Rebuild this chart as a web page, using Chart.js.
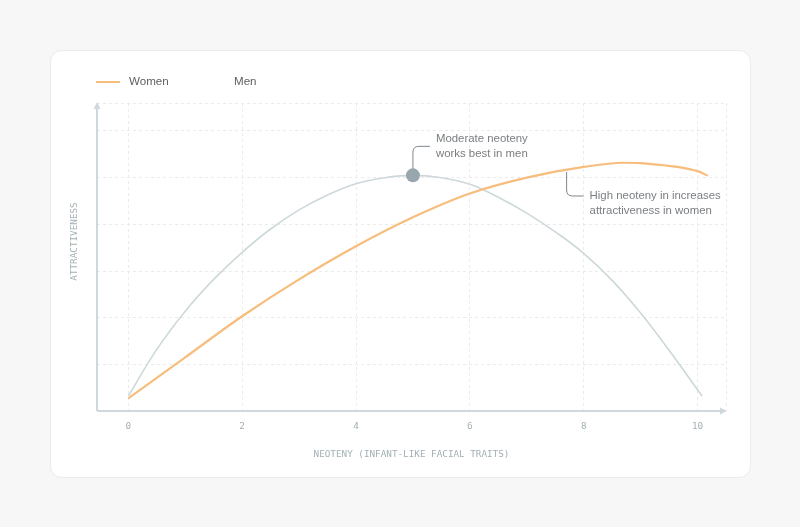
<!DOCTYPE html>
<html>
<head>
<meta charset="utf-8">
<script src="https://cdn.jsdelivr.net/npm/chart.js@4.4.1/dist/chart.umd.min.js"></script>
<style>
  html, body { margin: 0; padding: 0; background: #f7f7f7; }
  body { width: 800px; height: 527px; position: relative; overflow: hidden; }
  .card {
    position: absolute; left: 50px; top: 50px; width: 699px; height: 426px;
    background: #fff; border: 1px solid #ebebeb; border-radius: 12px;
  }
  #chart { position: absolute; left: 0; top: 0; }
</style>
</head>
<body>
<div class="card"></div>
<canvas id="chart" width="800" height="527"></canvas>
<script>
// neoteny (x) and attractiveness (y)
const menX = [0, 0.5, 1, 1.5, 2, 2.5, 3, 3.5, 4, 4.5, 5, 5.5, 6, 6.5, 7, 7.5, 8, 8.5, 9, 9.5, 10.08];
const menY = [0.32, 1.32, 2.14, 2.82, 3.4, 3.9, 4.31, 4.63, 4.87, 5.0, 5.05, 5.0, 4.86, 4.58, 4.24, 3.84, 3.38, 2.8, 2.1, 1.3, 0.32];
const womenX = [0, 1, 2, 3, 4, 5, 6, 7, 8, 8.7, 9, 10, 10.18];
const womenY = [0.27, 1.15, 2.03, 2.82, 3.53, 4.15, 4.66, 5.0, 5.23, 5.32, 5.31, 5.14, 5.04];
const xTickLabels = [0, 2, 4, 6, 8, 10];
const yTickValues = [0, 1, 2, 3, 4, 5, 6];

const seriesNames = ['Women', 'Men'];
const peakMen = { x: 5, y: 5.05 };
const womenNoteX = 7.7;

const X_MIN = -0.55, X_MAX = 10.5, Y_MAX = 6.6;

const ORANGE = '#f6bd7c';
const GREY_LINE = '#cdd8da';
const AXIS = '#cfd9dd';
const MONO = '"DejaVu Sans Mono", "Liberation Mono", monospace';
const SANS = '"Liberation Sans", Arial, sans-serif';

const toPoints = (xs, ys) => xs.map((x, i) => ({ x: x, y: ys[i] }));

// axes with arrows, notes, legend and axis titles
const decorations = {
    id: 'decorations',
    afterDatasetsDraw(chart) {
        const ctx = chart.ctx;
        const { left, right, top, bottom } = chart.chartArea;
        const xs = chart.scales.x, ys = chart.scales.y;

        ctx.save();
        // axis lines
        ctx.strokeStyle = AXIS;
        ctx.fillStyle = AXIS;
        ctx.lineWidth = 2;
        ctx.beginPath();
        ctx.moveTo(left, bottom);
        ctx.lineTo(right - 2, bottom);
        ctx.moveTo(left, bottom);
        ctx.lineTo(left, top + 2);
        ctx.stroke();
        ctx.beginPath();
        ctx.moveTo(right + 1, bottom);
        ctx.lineTo(right - 6, bottom - 3.5);
        ctx.lineTo(right - 6, bottom + 3.5);
        ctx.closePath();
        ctx.fill();
        ctx.beginPath();
        ctx.moveTo(left, top - 1);
        ctx.lineTo(left - 3.5, top + 6);
        ctx.lineTo(left + 3.5, top + 6);
        ctx.closePath();
        ctx.fill();

        // men peak marker + note
        const px = xs.getPixelForValue(peakMen.x);
        const py = ys.getPixelForValue(peakMen.y);
        ctx.strokeStyle = '#7d868c';
        ctx.lineWidth = 1;
        ctx.beginPath();
        ctx.moveTo(px, py - 6);
        ctx.lineTo(px, py - 23);
        ctx.quadraticCurveTo(px, py - 29, px + 6, py - 29);
        ctx.lineTo(px + 17, py - 29);
        ctx.stroke();
        ctx.fillStyle = '#97a7ad';
        ctx.beginPath();
        ctx.arc(px, py, 7, 0, Math.PI * 2);
        ctx.fill();

        ctx.fillStyle = '#7a7d80';
        ctx.font = '11.4px ' + SANS;
        ctx.textBaseline = 'middle';
        ctx.textAlign = 'left';
        ctx.fillText('Moderate neoteny', px + 23, py - 36);
        ctx.fillText('works best in men', px + 23, py - 21);

        // women note
        const wx = xs.getPixelForValue(womenNoteX);
        const wy = 172;
        ctx.beginPath();
        ctx.moveTo(wx, wy);
        ctx.lineTo(wx, wy + 18);
        ctx.quadraticCurveTo(wx, wy + 24, wx + 6, wy + 24);
        ctx.lineTo(wx + 17, wy + 24);
        ctx.stroke();
        ctx.fillText('High neoteny in increases', wx + 23, wy + 24);
        ctx.fillText('attractiveness in women', wx + 23, wy + 39);

        // legend
        ctx.strokeStyle = ORANGE;
        ctx.lineWidth = 2;
        ctx.beginPath();
        ctx.moveTo(96, 82);
        ctx.lineTo(120, 82);
        ctx.stroke();
        ctx.fillStyle = '#5c5f62';
        ctx.font = '11.6px ' + SANS;
        ctx.fillText(seriesNames[0], 129, 82);
        ctx.fillText(seriesNames[1], 234, 82);

        // axis titles
        ctx.fillStyle = '#a3b0b5';
        ctx.font = '9.3px ' + MONO;
        ctx.textAlign = 'center';
        ctx.fillText('NEOTENY (INFANT-LIKE FACIAL TRAITS)', (left + right) / 2, 455);
        ctx.translate(75, 241.5);
        ctx.rotate(-Math.PI / 2);
        ctx.fillText('ATTRACTIVENESS', 0, 0);
        ctx.restore();
    }
};

new Chart(document.getElementById('chart'), {
    type: 'line',
    data: {
        datasets: [{
            label: seriesNames[0],
            data: toPoints(womenX, womenY),
            borderColor: ORANGE,
            borderWidth: 2.2,
            pointRadius: 0,
            cubicInterpolationMode: 'monotone',
            order: 1
        }, {
            label: seriesNames[1],
            data: toPoints(menX, menY),
            borderColor: GREY_LINE,
            borderWidth: 1.6,
            pointRadius: 0,
            tension: 0.4,
            order: 2
        }]
    },
    options: {
        responsive: false,
        animation: false,
        devicePixelRatio: 1,
        layout: { padding: { left: 97, right: 74, top: 103, bottom: 85 } },
        plugins: {
            legend: { display: false },
            tooltip: { enabled: false }
        },
        scales: {
            x: {
                type: 'linear',
                min: X_MIN,
                max: X_MAX,
                afterFit: s => { s.height = 31; },
                afterBuildTicks: s => {
                    s.ticks = xTickLabels.concat([X_MAX]).map(v => ({ value: v }));
                },
                grid: { color: '#ebebeb', drawTicks: false },
                border: { display: false, dash: [3, 3] },
                ticks: {
                    padding: 10,
                    color: '#a3b0b5',
                    font: { family: MONO, size: 9.3 },
                    callback: v => xTickLabels.includes(v) ? String(v) : ''
                }
            },
            y: {
                min: 0,
                max: Y_MAX,
                afterFit: s => { s.width = 0; },
                afterBuildTicks: s => {
                    s.ticks = yTickValues.concat([Y_MAX]).map(v => ({ value: v }));
                },
                grid: { color: '#ebebeb', drawTicks: false },
                border: { display: false, dash: [3, 3] },
                ticks: { display: false }
            }
        }
    },
    plugins: [decorations]
});
</script>
</body>
</html>
